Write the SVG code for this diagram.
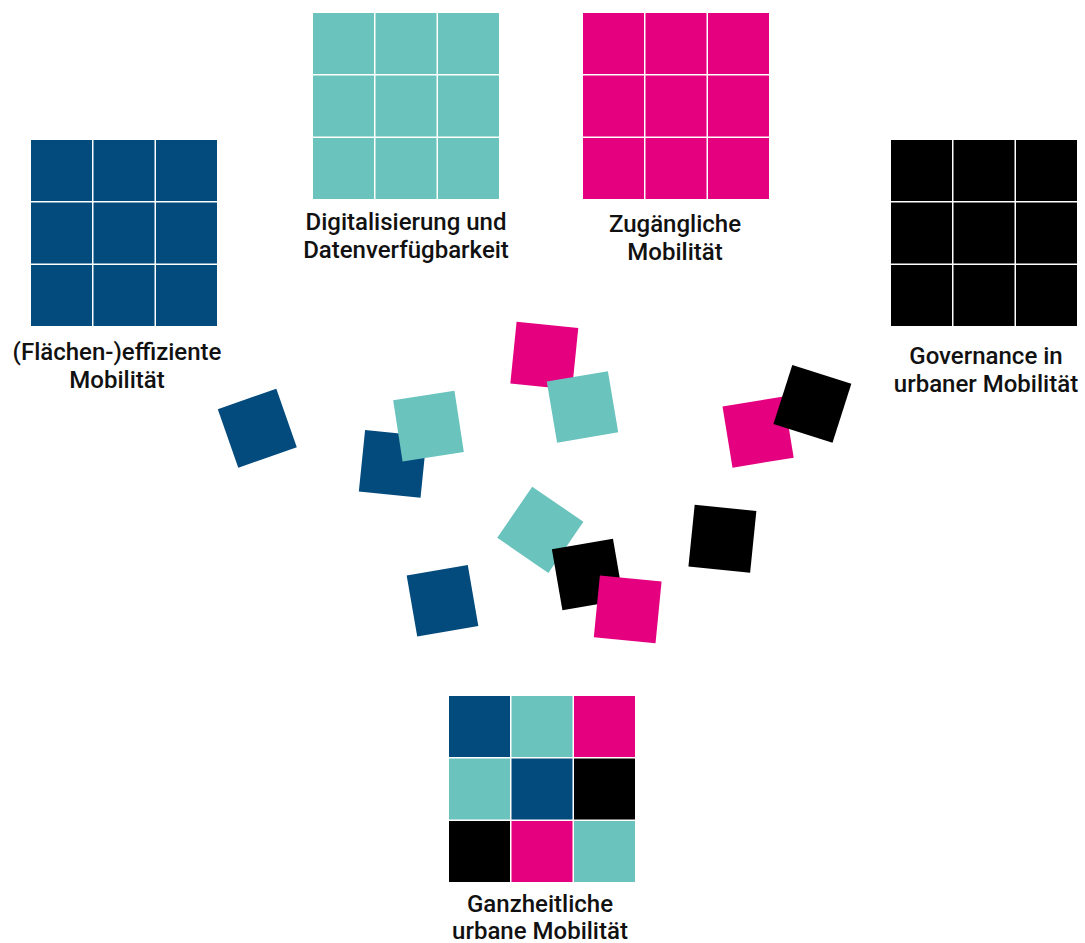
<svg xmlns="http://www.w3.org/2000/svg" xmlns:xlink="http://www.w3.org/1999/xlink" width="1085" height="943" viewBox="0 0 1085 943">
  <style>
    .blue { fill: #034a7d; }
    .teal { fill: #6ac3bd; }
    .pink { fill: #e4007f; }
    .black { fill: #000000; }
    .label { font-family: Roboto, "Liberation Sans", sans-serif; font-weight: 500; font-size: 24px; fill: #111111; text-anchor: middle; }
  </style>
  <defs>
    <!-- one 3x3 block: nine 61px cells, 62.5px pitch -->
    <g id="grid9">
      <rect x="0" y="0" width="61" height="61"/>
      <rect x="62.5" y="0" width="61" height="61"/>
      <rect x="125" y="0" width="61" height="61"/>
      <rect x="0" y="62.5" width="61" height="61"/>
      <rect x="62.5" y="62.5" width="61" height="61"/>
      <rect x="125" y="62.5" width="61" height="61"/>
      <rect x="0" y="125" width="61" height="61"/>
      <rect x="62.5" y="125" width="61" height="61"/>
      <rect x="125" y="125" width="61" height="61"/>
    </g>
    <!-- a single loose tile centred on its origin -->
    <rect id="tile" x="-31" y="-31" width="62" height="62"/>
  </defs>

  <rect width="1085" height="943" fill="#ffffff"/>

  <!-- category blocks -->
  <g id="flaecheneffizient">
    <use xlink:href="#grid9" href="#grid9" x="31" y="140" class="blue"/>
    <text class="label" x="117" y="360">(Flächen-)effiziente</text>
    <text class="label" x="117" y="388">Mobilität</text>
  </g>

  <g id="digitalisierung">
    <use xlink:href="#grid9" href="#grid9" x="313" y="13" class="teal"/>
    <text class="label" x="406" y="230">Digitalisierung und</text>
    <text class="label" x="406" y="258">Datenverfügbarkeit</text>
  </g>

  <g id="zugaenglich">
    <use xlink:href="#grid9" href="#grid9" x="583" y="13" class="pink"/>
    <text class="label" x="675" y="232">Zugängliche</text>
    <text class="label" x="675" y="260">Mobilität</text>
  </g>

  <g id="governance">
    <use xlink:href="#grid9" href="#grid9" x="891" y="140" class="black"/>
    <text class="label" x="986" y="364">Governance in</text>
    <text class="label" x="986" y="392">urbaner Mobilität</text>
  </g>

  <!-- scattered tiles, back to front -->
  <g id="scatter">
    <use xlink:href="#tile" href="#tile" class="blue" transform="translate(257.3,428.2) rotate(-19.3)"/>
    <use xlink:href="#tile" href="#tile" class="blue" transform="translate(392.8,463.9) rotate(5.8)"/>
    <use xlink:href="#tile" href="#tile" class="teal" transform="translate(428.5,426.1) rotate(-8.7)"/>
    <use xlink:href="#tile" href="#tile" class="pink" transform="translate(544.3,355.7) rotate(5.8)"/>
    <use xlink:href="#tile" href="#tile" class="teal" transform="translate(582.5,406.9) rotate(-9.6)"/>
    <use xlink:href="#tile" href="#tile" class="pink" transform="translate(758.1,432.1) rotate(-9.3)"/>
    <use xlink:href="#tile" href="#tile" class="black" transform="translate(812.4,403.9) rotate(17.7)"/>
    <use xlink:href="#tile" href="#tile" class="blue" transform="translate(442.5,600.7) rotate(-9.8)"/>
    <use xlink:href="#tile" href="#tile" class="teal" transform="translate(540.3,529.8) rotate(34.4)"/>
    <use xlink:href="#tile" href="#tile" class="black" transform="translate(587.7,574.5) rotate(-9.8)"/>
    <use xlink:href="#tile" href="#tile" class="pink" transform="translate(627.7,609.3) rotate(5.6)"/>
    <use xlink:href="#tile" href="#tile" class="black" transform="translate(722.4,538.7) rotate(5.8)"/>
  </g>

  <!-- combined block -->
  <g id="ganzheitlich">
    <rect class="blue" x="449" y="696" width="61" height="61"/>
    <rect class="teal" x="511.5" y="696" width="61" height="61"/>
    <rect class="pink" x="574" y="696" width="61" height="61"/>
    <rect class="teal" x="449" y="758.5" width="61" height="61"/>
    <rect class="blue" x="511.5" y="758.5" width="61" height="61"/>
    <rect class="black" x="574" y="758.5" width="61" height="61"/>
    <rect class="black" x="449" y="821" width="61" height="61"/>
    <rect class="pink" x="511.5" y="821" width="61" height="61"/>
    <rect class="teal" x="574" y="821" width="61" height="61"/>
    <text class="label" x="540" y="912">Ganzheitliche</text>
    <text class="label" x="540" y="939">urbane Mobilität</text>
  </g>
</svg>
